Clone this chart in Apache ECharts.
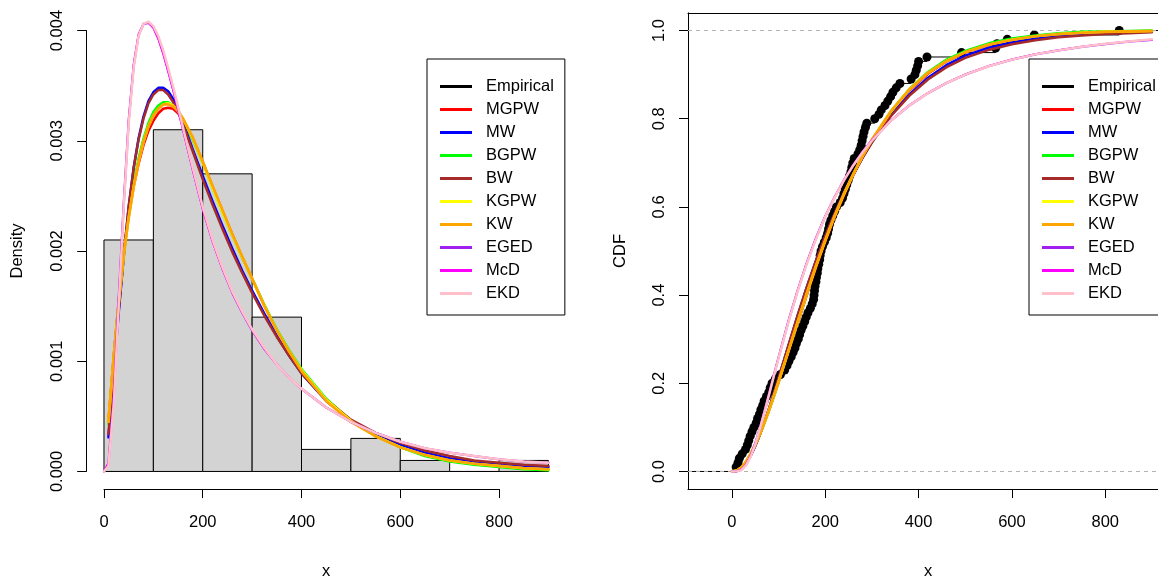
<!DOCTYPE html>
<html><head><meta charset="utf-8">
<script src="https://cdn.jsdelivr.net/npm/echarts@6/dist/echarts.min.js"></script>
<style>html,body{margin:0;padding:0;background:#fff}#c{width:1158px;height:584px}</style>
</head><body><div id="c"></div>
<script>
// ---------------- data ----------------
const modelNames  = ['MGPW','MW','BGPW','BW','KGPW','KW','EGED','McD','EKD'];
const modelColors = ['#ff0000','#0000ff','#00ff00','#a52a2a','#ffff00','#ffa500','#a020f0','#ff00ff','#ffc0cb'];

const histBreaks  = [0,100,200,300,400,500,600,700,800,900];
const histDensity = [0.0021,0.0031,0.0027,0.0014,0.0002,0.0003,0.0001,0,0.0001];

const denX = [0,9,20,30,40,50,60,70,80,90,100,110,120,130,140,150,160,180,200,220,240,260,280,300,325,350,375,400,450,500,550,600,650,700,750,800,850,900];
const densMGPW = [null,0.00046,0.00106,0.00156,0.00198,0.00231,0.00258,0.00279,0.00296,0.00309,0.00318,0.00325,0.00329,0.00330,0.00329,0.00325,0.00319,0.00302,0.00281,0.00258,0.00236,0.00215,0.00194,0.00175,0.00150,0.00128,0.00109,0.00092,0.00065,0.00046,0.00032,0.00022,0.00015,0.00010,0.00007,0.00005,0.00003,0.00002];
const densMW   = [null,0.00031,0.00090,0.00145,0.00195,0.00240,0.00275,0.00302,0.00322,0.00336,0.00344,0.00348,0.00348,0.00345,0.00338,0.00328,0.00317,0.00292,0.00268,0.00245,0.00223,0.00202,0.00182,0.00164,0.00143,0.00123,0.00105,0.00089,0.00064,0.00046,0.00033,0.00024,0.00017,0.00012,0.00009,0.00007,0.00005,0.00004];
const densBGPW = [null,0.00043,0.00103,0.00154,0.00197,0.00232,0.00261,0.00284,0.00302,0.00316,0.00326,0.00332,0.00335,0.00335,0.00332,0.00327,0.00320,0.00301,0.00280,0.00257,0.00235,0.00214,0.00194,0.00175,0.00151,0.00129,0.00110,0.00093,0.00066,0.00046,0.00032,0.00022,0.00014,0.00009,0.00006,0.00004,0.00002,0.00001];
const densBW   = [null,0.00034,0.00093,0.00147,0.00196,0.00240,0.00275,0.00301,0.00320,0.00334,0.00342,0.00346,0.00346,0.00342,0.00335,0.00326,0.00315,0.00290,0.00265,0.00242,0.00220,0.00199,0.00180,0.00162,0.00141,0.00122,0.00105,0.00089,0.00065,0.00047,0.00035,0.00026,0.00019,0.00014,0.00010,0.00008,0.00006,0.00005];
const densKGPW = [null,0.00045,0.00104,0.00154,0.00196,0.00230,0.00258,0.00281,0.00299,0.00313,0.00323,0.00329,0.00333,0.00334,0.00332,0.00327,0.00320,0.00302,0.00280,0.00257,0.00235,0.00214,0.00194,0.00175,0.00150,0.00128,0.00109,0.00092,0.00065,0.00046,0.00032,0.00022,0.00015,0.00010,0.00007,0.00005,0.00003,0.00002];
const densKW   = [null,0.00045,0.00104,0.00154,0.00196,0.00230,0.00258,0.00281,0.00299,0.00313,0.00323,0.00329,0.00333,0.00333,0.00331,0.00327,0.00320,0.00303,0.00281,0.00259,0.00237,0.00215,0.00195,0.00175,0.00150,0.00128,0.00109,0.00091,0.00064,0.00045,0.00032,0.00022,0.00015,0.00010,0.00007,0.00005,0.00003,0.00002];
const densEGED = [0,0.00007,0.00070,0.00158,0.00243,0.00318,0.00368,0.00396,0.00406,0.00407,0.00403,0.00393,0.00380,0.00364,0.00347,0.00329,0.00311,0.00274,0.00239,0.00209,0.00184,0.00162,0.00144,0.00128,0.00111,0.00097,0.00085,0.00075,0.00058,0.00045,0.00035,0.00027,0.00021,0.00017,0.00014,0.00011,0.00009,0.00008];
const densMcD  = [0,0.00008,0.00065,0.00160,0.00245,0.00320,0.00370,0.00397,0.00406,0.00407,0.00402,0.00392,0.00378,0.00362,0.00345,0.00327,0.00309,0.00272,0.00237,0.00208,0.00183,0.00162,0.00144,0.00128,0.00111,0.00097,0.00085,0.00075,0.00058,0.00045,0.00035,0.00027,0.00021,0.00017,0.00014,0.00011,0.00009,0.00008];
const densEKD  = [0,0.00005,0.00062,0.00152,0.00240,0.00315,0.00366,0.00395,0.00406,0.00408,0.00404,0.00395,0.00382,0.00366,0.00349,0.00331,0.00312,0.00275,0.00240,0.00210,0.00185,0.00163,0.00145,0.00129,0.00112,0.00097,0.00085,0.00075,0.00058,0.00045,0.00035,0.00027,0.00021,0.00017,0.00014,0.00011,0.00009,0.00008];

const cdfX = [0,10,20,30,40,50,60,70,80,90,100,120,140,160,180,200,220,240,260,280,300,340,380,420,460,500,550,600,650,700,750,800,850,900];
const cdfMGPW = [0,0.002,0.009,0.022,0.040,0.061,0.085,0.112,0.140,0.171,0.202,0.267,0.333,0.399,0.462,0.521,0.576,0.626,0.672,0.713,0.750,0.813,0.864,0.902,0.930,0.950,0.967,0.978,0.986,0.991,0.994,0.996,0.998,0.999];
const cdfMW   = [0,0.001,0.007,0.019,0.036,0.058,0.084,0.113,0.144,0.178,0.212,0.282,0.351,0.417,0.478,0.534,0.585,0.632,0.674,0.712,0.747,0.807,0.855,0.893,0.922,0.943,0.961,0.973,0.982,0.988,0.992,0.995,0.997,0.998];
const cdfBGPW = [0,0.002,0.009,0.021,0.039,0.060,0.084,0.111,0.140,0.171,0.203,0.269,0.336,0.402,0.465,0.524,0.579,0.629,0.674,0.715,0.752,0.816,0.867,0.906,0.934,0.954,0.971,0.982,0.989,0.994,0.997,0.998,0.999,1.000];
const cdfBW   = [0,0.001,0.007,0.019,0.036,0.058,0.084,0.113,0.144,0.178,0.212,0.282,0.351,0.417,0.478,0.534,0.585,0.632,0.674,0.712,0.746,0.805,0.852,0.889,0.917,0.938,0.956,0.969,0.978,0.985,0.989,0.992,0.994,0.996];
const cdfKGPW = [0,0.002,0.009,0.022,0.040,0.061,0.085,0.112,0.141,0.172,0.204,0.270,0.336,0.402,0.465,0.524,0.579,0.629,0.674,0.715,0.752,0.815,0.866,0.904,0.931,0.951,0.968,0.979,0.987,0.992,0.995,0.997,0.998,0.999];
const cdfKW   = [0,0.002,0.009,0.022,0.040,0.061,0.085,0.112,0.141,0.172,0.204,0.270,0.337,0.403,0.466,0.525,0.580,0.630,0.675,0.716,0.753,0.816,0.866,0.904,0.931,0.951,0.968,0.979,0.987,0.992,0.995,0.997,0.998,0.999];
const cdfEGED = [0,0.0003,0.004,0.015,0.035,0.064,0.099,0.138,0.178,0.219,0.259,0.337,0.408,0.472,0.529,0.579,0.622,0.661,0.695,0.725,0.751,0.795,0.830,0.858,0.881,0.900,0.919,0.934,0.946,0.955,0.963,0.969,0.975,0.979];
const cdfMcD  = [0,0.0004,0.005,0.016,0.036,0.065,0.100,0.139,0.179,0.220,0.260,0.338,0.409,0.473,0.530,0.580,0.623,0.662,0.696,0.726,0.752,0.796,0.831,0.859,0.882,0.901,0.920,0.935,0.947,0.956,0.964,0.970,0.975,0.979];
const cdfEKD  = [0,0.0002,0.003,0.014,0.033,0.062,0.097,0.136,0.176,0.217,0.257,0.335,0.406,0.470,0.527,0.578,0.621,0.660,0.694,0.724,0.750,0.795,0.830,0.858,0.881,0.900,0.919,0.934,0.946,0.955,0.963,0.970,0.975,0.980];

// observed sample (sorted) for the empirical CDF
const sampleX = [9,13,16,22,29,33,36,39,43,47,52,55,59,62,66,69,74,79,82,86,93,
  104,113,118,122,127,131,135,138,142,145,148,152,156,159,163,168,172,175,176,177,178,180,181,183,184,186,188,189,191,194,198,
  202,205,207,209,212,216,220,224,232,237,240,243,246,249,252,255,257,259,262,270,274,277,279,281,283,286,289,
  306,315,320,328,334,340,345,352,360,384,392,395,398,400,
  418,492,565,568,590,648,830];

const xTickLabels = ['0','200','400','600','800'];
const densTickLabels = ['0.000','0.001','0.002','0.003','0.004'];
const cdfTickLabels  = ['0.0','0.2','0.4','0.6','0.8','1.0'];

// ---------------- layout ----------------
const FONT = 'Liberation Sans, Arial, Helvetica, sans-serif';
const FS = 16.5;
const TICK = 9;
const GL = {left: 86.2, top: 12.9, width: 480, height: 476.2};
const LX = [-36, 936], LY = [-0.00016, 0.00416];
// right plot region (its right part lies beyond the picture edge)
const kR = 480 / (934.5 + 94.2);
const GR = {left: 688, top: 12.9, width: 470, height: 476.2};
const RX = [-94.2, -94.2 + 470 / kR], RY = [-0.04, 1.04];

function sub(g, xr, yr, x0, x1, y0, y1) {
  const kx = g.width / (xr[1] - xr[0]), ky = g.height / (yr[1] - yr[0]);
  return {
    left: g.left + (x0 - xr[0]) * kx,
    width: (x1 - x0) * kx,
    top: g.top + (yr[1] - y1) * ky,
    height: (y1 - y0) * ky
  };
}
const GL2 = sub(GL, LX, LY, 0, 800, 0, 0.004);
const GR2 = sub(GR, RX, RY, 0, 800, 0, 1);
const offLx = (GL.top + GL.height) - (GL2.top + GL2.height);
const offLy = GL2.left - GL.left;
// tick strips outside the right box: ticks are drawn as the split lines of these strips
const GRtx = {left: GR2.left, width: GR2.width, top: GR.top + GR.height, height: TICK};
const GRty = {left: GR.left - TICK, width: TICK, top: GR2.top, height: GR2.height};

function gridOpt(g) {
  return {left: g.left, top: g.top, width: g.width, height: g.height,
    containLabel: false, outerBoundsMode: 'none', show: false};
}

const labelFont = {fontFamily: FONT, fontSize: FS, color: '#000'};
const nameFont = {fontFamily: FONT, fontSize: FS, color: '#000'};
const blackLine = {show:true, onZero:false, lineStyle:{color:'#000', width:1}};
const tickStyle = {show:true, length:TICK, inside:false, lineStyle:{color:'#000', width:1}};
const splitAsTick = {show:true, showMinLine:true, showMaxLine:true, lineStyle:{color:'#000', width:1, type:'solid'}};
const X_MARGIN = 24.5, Y_MARGIN = 20.5;
const off = {axisLine:{show:false}, axisTick:{show:false}, axisLabel:{show:false}, splitLine:{show:false}};

// ---------------- series ----------------
const series = [];
const histData = histDensity.map((d, i) => [histBreaks[i], histBreaks[i+1], d]);
series.push({
  type:'custom', name:'hist', xAxisIndex:0, yAxisIndex:0, silent:true, z:2,
  data: histData, encode:{x:[0,1], y:2},
  renderItem: (params, api) => {
    const p0 = api.coord([api.value(0), api.value(2)]);
    const p1 = api.coord([api.value(1), 0]);
    return {type:'rect', shape:{x:p0[0], y:p0[1], width:p1[0]-p0[0], height:p1[1]-p0[1]},
      style:{fill:'#d3d3d3', stroke:'#000', lineWidth:1}};
  }
});
series.push({type:'line', name:'Empirical', xAxisIndex:0, yAxisIndex:0, data:[], color:'#000',
  itemStyle:{color:'#000'}, lineStyle:{color:'#000'}});

const densArrs = [densMGPW, densMW, densBGPW, densBW, densKGPW, densKW, densEGED, densMcD, densEKD];
const cdfArrs  = [cdfMGPW, cdfMW, cdfBGPW, cdfBW, cdfKGPW, cdfKW, cdfEGED, cdfMcD, cdfEKD];
const widths   = [2.5, 2.5, 2.5, 2.5, 2.5, 2.7, 2.3, 1.5, 2.5];

modelNames.forEach((nm, i) => {
  series.push({
    type:'line', name:nm, xAxisIndex:0, yAxisIndex:0, z:3+i,
    data: denX.map((x, j) => [x, densArrs[i][j]]),
    showSymbol:false, symbol:'none', smooth:false, connectNulls:false,
    color: modelColors[i], itemStyle:{color:modelColors[i]},
    lineStyle:{color:modelColors[i], width:widths[i], join:'round', cap:'round'}, silent:true, clip:true
  });
});

const n = sampleX.length;
const stepData = [];
for (let i = 0; i <= n; i++) {
  const xa = i === 0 ? RX[0] : sampleX[i-1];
  const xb = i === n ? RX[1] : sampleX[i];
  stepData.push([xa, xb, i / n]);
}
series.push({
  type:'custom', name:'ecdfSteps', xAxisIndex:2, yAxisIndex:2, silent:true, z:2,
  data: stepData, encode:{x:[0,1], y:2},
  renderItem: (params, api) => {
    const a = api.coord([api.value(0), api.value(2)]);
    const b = api.coord([api.value(1), api.value(2)]);
    return {type:'line', shape:{x1:a[0], y1:a[1], x2:b[0], y2:b[1]}, style:{stroke:'#000', lineWidth:1}};
  }
});
series.push({
  type:'scatter', name:'Empirical', xAxisIndex:2, yAxisIndex:2, z:3, silent:true,
  data: sampleX.map((x, i) => [x, (i+1)/n]),
  symbol:'circle', symbolSize:9, color:'#000', itemStyle:{color:'#000', opacity:1},
  markLine:{silent:true, symbol:'none', label:{show:false}, animation:false,
    lineStyle:{color:'#b3b3b3', type:[4,4], width:1},
    data:[{yAxis:0},{yAxis:1}]}
});
modelNames.forEach((nm, i) => {
  series.push({
    type:'line', name:nm, xAxisIndex:2, yAxisIndex:2, z:5+i,
    data: cdfX.map((x, j) => [x, cdfArrs[i][j]]),
    showSymbol:false, symbol:'none', smooth:false,
    color: modelColors[i], itemStyle:{color:modelColors[i]},
    lineStyle:{color:modelColors[i], width:widths[i], join:'round', cap:'round'}, silent:true, clip:true
  });
});

const legendNames = ['Empirical'].concat(modelNames);
function legendOpt(left) {
  return {left: left, top: 59, orient:'vertical', data: legendNames,
    icon:'rect', itemWidth:32, itemHeight:3, itemGap:0,
    padding:[16, 11, 10, 13], backgroundColor:'#fff', borderColor:'#000', borderWidth:1, borderRadius:0,
    selectedMode:false,
    textStyle:{fontFamily:FONT, fontSize:FS, color:'#000', lineHeight:23, padding:[0,0,0,9]},
    z: 50};
}

const option = {
  animation:false,
  backgroundColor:'#fff',
  grid:[ gridOpt(GL), gridOpt(GL2), gridOpt(GR), gridOpt(GRtx), gridOpt(GRty) ],
  xAxis:[
    Object.assign({gridIndex:0, type:'value', min:LX[0], max:LX[1], position:'bottom',
      name:'x', nameLocation:'middle', nameGap:74, nameTextStyle:nameFont}, off),
    {gridIndex:1, type:'value', min:0, max:800, interval:200, position:'bottom', offset: offLx,
      axisLine: blackLine, axisTick: tickStyle,
      axisLabel:Object.assign({show:true, margin:X_MARGIN, showMinLabel:true, showMaxLabel:true,
        formatter: v => xTickLabels[Math.round(v/200)]}, labelFont),
      splitLine:{show:false}},
    {gridIndex:2, type:'value', min:RX[0], max:RX[1], position:'bottom',
      name:'x', nameLocation:'middle', nameGap:74, nameTextStyle:Object.assign({padding:[0,0,0,10]}, nameFont),
      axisLine: blackLine, axisTick:{show:false}, axisLabel:{show:false}, splitLine:{show:false}},
    {gridIndex:2, type:'value', min:RX[0], max:RX[1], position:'top',
      axisLine: blackLine, axisTick:{show:false}, axisLabel:{show:false}, splitLine:{show:false}},
    {gridIndex:3, type:'value', min:0, max:800, interval:200, position:'bottom',
      axisLine:{show:false}, axisTick:{show:false}, splitLine: splitAsTick,
      axisLabel:Object.assign({show:true, margin:X_MARGIN - TICK, showMinLabel:true, showMaxLabel:true,
        formatter: v => xTickLabels[Math.round(v/200)]}, labelFont)},
    Object.assign({gridIndex:4, type:'value', min:0, max:1}, off)
  ],
  yAxis:[
    Object.assign({gridIndex:0, type:'value', min:LY[0], max:LY[1], position:'left',
      name:'Density', nameLocation:'middle', nameGap:60, nameTextStyle:nameFont}, off),
    {gridIndex:1, type:'value', min:0, max:0.004, interval:0.001, position:'left', offset: offLy,
      axisLine: blackLine, axisTick: tickStyle,
      axisLabel:Object.assign({show:true, rotate:90, margin:Y_MARGIN, showMinLabel:true, showMaxLabel:true,
        formatter: v => densTickLabels[Math.round(v/0.001)]}, labelFont),
      splitLine:{show:false}},
    {gridIndex:2, type:'value', min:RY[0], max:RY[1], position:'left',
      name:'CDF', nameLocation:'middle', nameGap:59.5, nameTextStyle:nameFont,
      axisLine: blackLine, axisTick:{show:false}, axisLabel:{show:false}, splitLine:{show:false}},
    Object.assign({gridIndex:3, type:'value', min:0, max:1}, off),
    {gridIndex:4, type:'value', min:0, max:1, interval:0.2, position:'left',
      axisLine:{show:false}, axisTick:{show:false}, splitLine: splitAsTick,
      axisLabel:Object.assign({show:true, rotate:90, margin:Y_MARGIN - TICK, showMinLabel:true, showMaxLabel:true,
        formatter: v => cdfTickLabels[Math.round(v/0.2)]}, labelFont)}
  ],
  legend:[legendOpt(427), legendOpt(1029)],
  series: series
};

const chart = echarts.init(document.getElementById('c'), null, {renderer:'canvas'});
chart.setOption(option);
</script>
</body></html>
